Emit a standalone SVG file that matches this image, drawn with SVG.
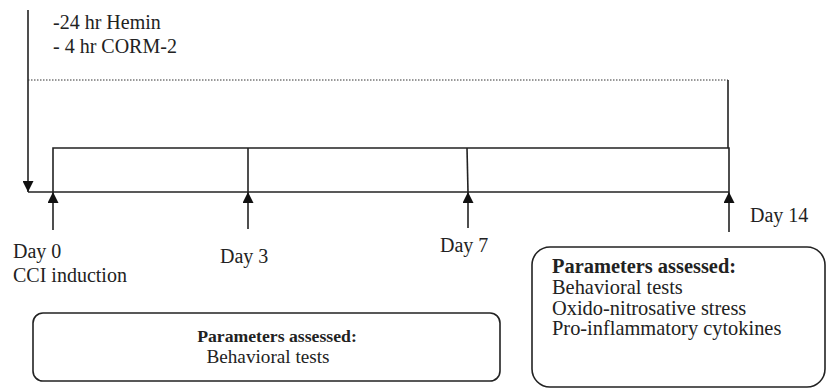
<svg xmlns="http://www.w3.org/2000/svg" width="827" height="390" viewBox="0 0 827 390">
<style>
  text { font-family: "Liberation Serif", "Times New Roman", serif; font-size: 20px; fill: #222; }
  .b { font-weight: bold; }
  .s1b { font-size: 17.7px; font-weight: bold; }
  .s1 { font-size: 19.2px; }
  .s2 { font-size: 20.4px; }
  .ln { stroke: #222; stroke-width: 1.6; fill: none; }
  .box { stroke: #222; stroke-width: 1.6; fill: #fff; }
  .dot { stroke: #333; stroke-width: 1; stroke-dasharray: 1.5 1.5; fill: none; }
</style>
<defs>
  <marker id="ah" markerWidth="12" markerHeight="11" refX="11" refY="5.5" orient="auto" markerUnits="userSpaceOnUse">
    <path d="M0,0 L11,5.5 L0,11 Z" fill="#111"/>
  </marker>
</defs>
<g id="connectors">
  <line class="ln" x1="28" y1="10" x2="28" y2="192" marker-end="url(#ah)"/>
  <line class="dot" x1="28" y1="80" x2="728" y2="80"/>
  <line class="ln" x1="728" y1="80" x2="728" y2="148"/>
  <line class="ln" x1="28" y1="192" x2="729" y2="192"/>
  <polyline class="ln" points="53,192 53,148 729,148 729,192"/>
  <line class="ln" x1="248" y1="148" x2="248" y2="192"/>
  <line class="ln" x1="467" y1="148" x2="468" y2="192"/>
  <line class="ln" x1="53" y1="230" x2="53" y2="192" marker-end="url(#ah)"/>
  <line class="ln" x1="248" y1="229" x2="248" y2="192" marker-end="url(#ah)"/>
  <line class="ln" x1="468" y1="228" x2="468" y2="192" marker-end="url(#ah)"/>
  <line class="ln" x1="729" y1="232" x2="729" y2="192" marker-end="url(#ah)"/>
</g>
<g id="pretreatment">
  <text x="53" y="29">-24 hr Hemin</text>
  <text x="53" y="53">- 4 hr CORM-2</text>
</g>
<g id="day0">
  <text x="13" y="258">Day 0</text>
  <text x="13" y="282">CCI induction</text>
</g>
<g id="day3"><text x="220" y="263">Day 3</text></g>
<g id="day7"><text x="440" y="252">Day 7</text></g>
<g id="day14"><text x="750" y="222">Day 14</text></g>
<g id="box1">
  <rect class="box" x="33" y="313" width="467" height="68" rx="10"/>
  <text class="s1b" x="277" y="342" text-anchor="middle">Parameters assessed:</text>
  <text class="s1" x="268" y="363" text-anchor="middle">Behavioral tests</text>
</g>
<g id="box2">
  <rect class="box" x="532" y="247" width="293" height="140" rx="18"/>
  <text class="b s2" x="552" y="273">Parameters assessed:</text>
  <text class="s2" x="552" y="294">Behavioral tests</text>
  <text class="s2" x="552" y="315">Oxido-nitrosative stress</text>
  <text class="s2" x="552" y="335">Pro-inflammatory cytokines</text>
</g>
</svg>
